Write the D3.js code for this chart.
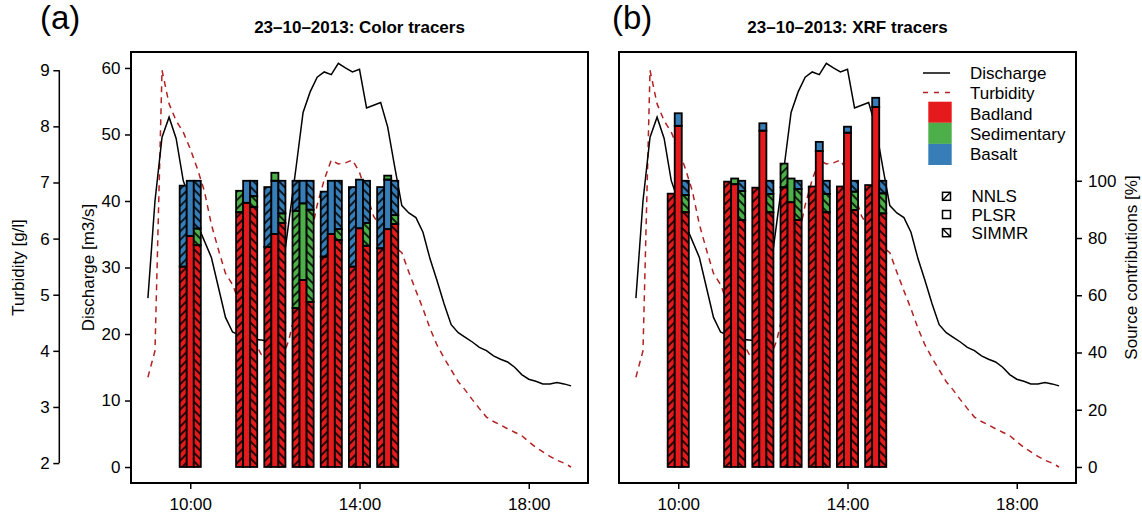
<!DOCTYPE html>
<html>
<head>
<meta charset="utf-8">
<script src="https://cdn.jsdelivr.net/npm/d3@7"></script>
<style>
  body { margin: 0; background: #fff; }
  svg { display: block; }
</style>
</head>
<body>
<svg id="chart" width="1142" height="513"></svg>
<script>
// ---------------------------------------------------------------
// Gauge record, 23-10-2013, one value every 10 minutes from 09:00
// ---------------------------------------------------------------
const recordDay = "2013-10-23";
const recordStart = "09:00";
const recordStepMinutes = 10;

// Discharge [m3/s]
const discharge = [
  25.4, 40.0, 49.6, 52.6, 49.4, 43.1, 40.0, 36.5, 34.0, 31.5,
  27.0, 22.5, 20.3, 19.8, 19.5, 19.2, 19.1, 19.0, 22.0, 29.0,
  37.0, 45.0, 53.3, 56.4, 58.6, 59.4, 59.0, 60.7, 60.0, 59.4,
  59.8, 54.0, 54.4, 54.8, 51.1, 45.1, 39.3, 38.2, 37.5, 35.3,
  31.3, 28.0, 24.5, 21.4, 20.2, 19.5, 18.8, 18.0, 17.5, 16.7,
  16.2, 15.8, 15.0, 13.9, 13.2, 12.9, 12.5, 12.5, 12.7, 12.5,
  12.2
];

// Turbidity [g/l]
const turbidity = [
  3.53, 4.00, 9.00, 8.40, 8.10, 7.90, 7.60, 7.25, 6.85, 6.25,
  5.80, 5.38, 5.18, 4.85, 4.50, 4.20, 3.95, 3.80, 3.75, 3.85,
  4.20, 4.75, 5.40, 6.00, 6.60, 7.05, 7.40, 7.33, 7.35, 7.40,
  7.18, 6.80, 6.40, 6.20, 6.00, 5.85, 5.75, 5.40, 5.07, 4.75,
  4.40, 4.10, 3.87, 3.66, 3.45, 3.30, 3.13, 2.97, 2.82, 2.74,
  2.68, 2.61, 2.55, 2.49, 2.38, 2.28, 2.20, 2.12, 2.05, 2.00,
  1.93
];

// ---------------------------------------------------------------
// Suspended sediment samples and source contributions [%]
// ---------------------------------------------------------------
const sampleTimes = ["10:00", "11:20", "12:00", "12:40", "13:20", "14:00", "14:40"];
const methods = ["NNLS", "PLSR", "SIMMR"];
const sources = ["Badland", "Sedimentary", "Basalt"];
const sourceColors = ["#E41A1C", "#4DAF4A", "#377EB8"];

// Colour tracers
const colorNNLSBadland     = [70.0, 89.0, 76.9, 55.5, 73.5, 70.0, 76.4];
const colorNNLSSedimentary = [ 0.0,  7.5,  0.0, 34.0,  0.0,  0.0,  0.0];
const colorNNLSBasalt      = [28.3,  0.0, 20.9, 10.5, 22.7, 27.8, 21.4];

const colorPLSRBadland     = [80.7, 92.3, 81.4, 65.3, 81.4, 83.4, 83.1];
const colorPLSRSedimentary = [ 0.0,  0.0,  2.8, 26.8,  0.0,  0.0,  1.4];
const colorPLSRBasalt      = [19.3,  7.7, 18.6,  7.9, 18.6, 17.0, 17.3];
// PLSR stacks where the sedimentary share sits above basalt
const colorPLSRSedimentaryOnTop = [false, false, true, false, false, false, true];

const colorSIMMRBadland     = [77.5, 90.9, 85.3, 57.7, 79.3, 77.3, 84.9];
const colorSIMMRSedimentary = [ 5.8,  3.7,  3.3, 32.2,  3.8,  8.0,  3.1];
const colorSIMMRBasalt      = [16.7,  5.4, 11.4, 10.1, 16.9, 14.7, 12.0];

// XRF tracers
const xrfNNLSBadland     = [95.5, 99.7, 97.6, 97.7, 98.0, 98.0, 98.5];
const xrfNNLSSedimentary = [ 0.0,  0.0,  0.0,  8.3,  0.0,  0.0,  0.0];
const xrfNNLSBasalt      = [ 0.0,  0.0,  0.0,  0.0,  0.0,  0.0,  0.0];

const xrfPLSRBadland     = [119.2, 98.8, 117.5, 92.5, 110.4, 116.8, 125.8];
const xrfPLSRSedimentary = [  0.0,  2.0,   0.0,  8.3,   0.0,   0.0,   0.0];
const xrfPLSRBasalt      = [  4.4,  0.0,   2.6,  0.0,   3.2,   2.1,   3.2];

const xrfSIMMRBadland     = [89.0, 86.3, 89.0, 86.3, 89.0, 89.8, 88.6];
const xrfSIMMRSedimentary = [ 6.0, 10.1,  6.4, 10.8,  6.4,  6.4,  7.0];
const xrfSIMMRBasalt      = [ 5.0,  3.6,  4.6,  2.9,  4.6,  3.8,  4.4];

// Axis ticks
const timeTicks = ["10:00", "14:00", "18:00"];
const dischargeTicks = [0, 10, 20, 30, 40, 50, 60];
const turbidityTicks = [2, 3, 4, 5, 6, 7, 8, 9];
const percentTicks = [0, 20, 40, 60, 80, 100];

// ---------------------------------------------------------------
const FONT = "'Liberation Sans', Arial, Helvetica, sans-serif";
const FS = 17;
const svg = d3.select("#chart");

const parseTime = d3.timeParse("%Y-%m-%d %H:%M");
const at = hm => parseTime(recordDay + " " + hm);
const t0 = at(recordStart);
const recordTimes = discharge.map((_, i) => d3.timeMinute.offset(t0, i * recordStepMinutes));
const tFirst = recordTimes[0], tLast = recordTimes[recordTimes.length - 1];
const pad = (tLast - tFirst) * 0.04;

const plotTop = 52, plotBottom = 483, plotWidth = 457;

const yQ = d3.scaleLinear().domain([-2.4, 62.4]).range([plotBottom, plotTop]);
const yT = d3.scaleLinear().domain([1.645, 9.325]).range([plotBottom, plotTop]);
const yP = d3.scaleLinear().domain([-5.6, 145]).range([plotBottom, plotTop]);

// Hatching for NNLS (/) and SIMMR (\)
const defs = svg.append("defs");
[["hatch-NNLS", 45], ["hatch-SIMMR", -45]].forEach(([id, ang]) => {
  const p = defs.append("pattern")
    .attr("id", id)
    .attr("patternUnits", "userSpaceOnUse")
    .attr("width", 6).attr("height", 6)
    .attr("patternTransform", `rotate(${ang})`);
  p.append("line")
    .attr("x1", 3).attr("y1", -1).attr("x2", 3).attr("y2", 7)
    .attr("stroke", "#000").attr("stroke-width", 1.6);
});

function styleAxis(g) {
  g.attr("font-family", FONT).attr("font-size", FS);
  g.select(".domain").remove();
  g.selectAll(".tick line").attr("stroke", "#000").attr("stroke-width", 1.5);
  g.selectAll(".tick text").attr("fill", "#000");
}

function drawPanel(opts) {
  const x0 = opts.left;
  const x = d3.scaleTime()
    .domain([new Date(+tFirst - pad), new Date(+tLast + pad)])
    .range([x0, x0 + plotWidth]);
  const g = svg.append("g");

  // Discharge and turbidity traces
  const qLine = d3.line().x((d, i) => x(recordTimes[i])).y(d => yQ(d));
  const tLine = d3.line().x((d, i) => x(recordTimes[i])).y(d => yT(d));
  g.append("path").datum(turbidity).attr("d", tLine)
    .attr("fill", "none").attr("stroke", "#B22222").attr("stroke-width", 1.5)
    .attr("stroke-dasharray", "6,5");
  g.append("path").datum(discharge).attr("d", qLine)
    .attr("fill", "none").attr("stroke", "#000").attr("stroke-width", 1.5);

  // Stacked source contributions, three methods per sample
  const barG = g.append("g");
  sampleTimes.forEach((st, j) => {
    methods.forEach((m, k) => {
      const d = opts.bars[m];
      const vals = [d.badland[j], d.sedimentary[j], d.basalt[j]];
      let order = [0, 1, 2];
      if (d.sedTop && d.sedTop[j]) order = [0, 2, 1];
      const centre = d3.timeMinute.offset(at(st), (k - 1) * 10);
      const xl = x(d3.timeMinute.offset(centre, -5));
      const xr = x(d3.timeMinute.offset(centre, 5));
      let cum = 0;
      const segs = [];
      order.forEach(si => {
        const v = vals[si];
        if (v > 0) {
          segs.push({ si, y0: cum, y1: cum + v });
          cum += v;
        }
      });
      segs.forEach(s => {
        barG.append("rect")
          .attr("x", xl).attr("width", xr - xl)
          .attr("y", yP(s.y1)).attr("height", yP(s.y0) - yP(s.y1))
          .attr("fill", sourceColors[s.si]);
        if (m !== "PLSR") {
          barG.append("rect")
            .attr("x", xl).attr("width", xr - xl)
            .attr("y", yP(s.y1)).attr("height", yP(s.y0) - yP(s.y1))
            .attr("fill", `url(#hatch-${m})`);
        }
      });
      segs.forEach(s => {
        barG.append("rect")
          .attr("x", xl).attr("width", xr - xl)
          .attr("y", yP(s.y1)).attr("height", yP(s.y0) - yP(s.y1))
          .attr("fill", "none").attr("stroke", "#000").attr("stroke-width", 1.8);
      });
    });
  });

  // Frame
  g.append("rect")
    .attr("x", x0).attr("y", plotTop)
    .attr("width", plotWidth).attr("height", plotBottom - plotTop)
    .attr("fill", "none").attr("stroke", "#000").attr("stroke-width", 2);

  // Time axis
  const xa = g.append("g").attr("transform", `translate(0,${plotBottom})`)
    .call(d3.axisBottom(x).tickValues(timeTicks.map(at))
      .tickFormat(d3.timeFormat("%H:%M")).tickSize(6).tickPadding(9));
  styleAxis(xa);

  // Title and panel letter
  g.append("text")
    .attr("x", x0 + plotWidth / 2).attr("y", 33)
    .attr("text-anchor", "middle")
    .attr("font-family", FONT).attr("font-size", FS).attr("font-weight", "bold")
    .text(opts.title);
  g.append("text")
    .attr("x", opts.letterX).attr("y", 29)
    .attr("font-family", FONT).attr("font-size", 33)
    .text(opts.letter);

  return { g, x };
}

// ---------------- Panel (a): colour tracers ----------------
const pa = drawPanel({
  left: 131,
  title: "23–10–2013: Color tracers",
  letter: "(a)", letterX: 40,
  bars: {
    NNLS: { badland: colorNNLSBadland, sedimentary: colorNNLSSedimentary, basalt: colorNNLSBasalt },
    PLSR: { badland: colorPLSRBadland, sedimentary: colorPLSRSedimentary, basalt: colorPLSRBasalt, sedTop: colorPLSRSedimentaryOnTop },
    SIMMR: { badland: colorSIMMRBadland, sedimentary: colorSIMMRSedimentary, basalt: colorSIMMRBasalt }
  }
});

// Discharge axis
const qa = svg.append("g").attr("transform", "translate(131,0)")
  .call(d3.axisLeft(yQ).tickValues(dischargeTicks).tickSize(6).tickPadding(4.5));
styleAxis(qa);
svg.append("text")
  .attr("transform", "translate(94,267.5) rotate(-90)")
  .attr("text-anchor", "middle")
  .attr("font-family", FONT).attr("font-size", FS)
  .text("Discharge [m3/s]");

// Turbidity axis (detached, left of discharge axis)
const ta = svg.append("g").attr("transform", "translate(59.3,0)")
  .call(d3.axisLeft(yT).tickValues(turbidityTicks).tickSize(6).tickPadding(3.5));
styleAxis(ta);
svg.append("line")
  .attr("x1", 59.3).attr("x2", 59.3)
  .attr("y1", yT(turbidityTicks[0])).attr("y2", yT(turbidityTicks[turbidityTicks.length - 1]))
  .attr("stroke", "#000").attr("stroke-width", 1.5);
svg.append("text")
  .attr("transform", "translate(24,267.5) rotate(-90)")
  .attr("text-anchor", "middle")
  .attr("font-family", FONT).attr("font-size", FS)
  .text("Turbidity [g/l]");

// ---------------- Panel (b): XRF tracers ----------------
const pb = drawPanel({
  left: 619,
  title: "23–10–2013: XRF tracers",
  letter: "(b)", letterX: 612,
  bars: {
    NNLS: { badland: xrfNNLSBadland, sedimentary: xrfNNLSSedimentary, basalt: xrfNNLSBasalt },
    PLSR: { badland: xrfPLSRBadland, sedimentary: xrfPLSRSedimentary, basalt: xrfPLSRBasalt },
    SIMMR: { badland: xrfSIMMRBadland, sedimentary: xrfSIMMRSedimentary, basalt: xrfSIMMRBasalt }
  }
});

// Source contribution axis
const pAx = svg.append("g").attr("transform", "translate(1076,0)")
  .call(d3.axisRight(yP).tickValues(percentTicks).tickSize(6).tickPadding(6));
styleAxis(pAx);
svg.append("text")
  .attr("transform", "translate(1137,267.5) rotate(-90)")
  .attr("text-anchor", "middle")
  .attr("font-family", FONT).attr("font-size", FS)
  .text("Source contributions [%]");

// ---------------- Legend ----------------
const lg = svg.append("g");
const textX = 970;
lg.append("line").attr("x1", 923).attr("x2", 950).attr("y1", 73).attr("y2", 73)
  .attr("stroke", "#000").attr("stroke-width", 1.5);
lg.append("line").attr("x1", 923).attr("x2", 950).attr("y1", 92.5).attr("y2", 92.5)
  .attr("stroke", "#B22222").attr("stroke-width", 1.5).attr("stroke-dasharray", "5,6");
const legendRows = ["Discharge", "Turbidity"].concat(sources);
legendRows.forEach((name, i) => {
  lg.append("text")
    .attr("x", textX).attr("y", 79.3 + i * 20.1)
    .attr("font-family", FONT).attr("font-size", FS)
    .text(name);
});
sources.forEach((s, i) => {
  lg.append("rect")
    .attr("x", 928.3).attr("width", 23.4)
    .attr("y", 101.7 + i * 21.1).attr("height", 21.1)
    .attr("fill", sourceColors[i]);
});
methods.forEach((m, i) => {
  const cy = 196.3 + i * 18.2;
  lg.append("rect")
    .attr("x", 942.5).attr("y", cy - 4).attr("width", 8).attr("height", 8)
    .attr("fill", "#fff").attr("stroke", "#000").attr("stroke-width", 1.5);
  if (m === "NNLS") {
    lg.append("line").attr("x1", 942.5).attr("y1", cy + 4).attr("x2", 950.5).attr("y2", cy - 4)
      .attr("stroke", "#000").attr("stroke-width", 1.5);
  } else if (m === "SIMMR") {
    lg.append("line").attr("x1", 942.5).attr("y1", cy - 4).attr("x2", 950.5).attr("y2", cy + 4)
      .attr("stroke", "#000").attr("stroke-width", 1.5);
  }
  lg.append("text")
    .attr("x", 971.5).attr("y", cy + 6.1)
    .attr("font-family", FONT).attr("font-size", FS)
    .text(m);
});
</script>
</body>
</html>
